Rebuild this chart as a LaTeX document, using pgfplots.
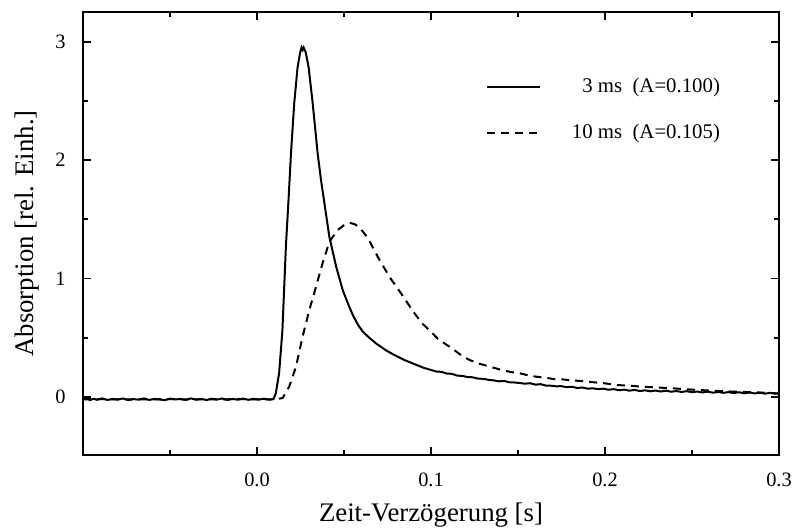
\documentclass[border=0pt]{standalone}
\usepackage{pgfplots}
\pgfplotsset{compat=1.18}
\usepackage{fontspec}
\setmainfont{Liberation Serif}
\begin{document}
\begin{tikzpicture}
\begin{axis}[
  scale only axis,
  width=348pt, height=221.5pt,
  xmin=-0.1, xmax=0.3, ymin=-0.49, ymax=3.25,
  axis line style={line width=1pt},
  xtick={0,0.1,0.2,0.3},
  xticklabels={0.0,0.1,0.2,0.3},
  minor xtick={-0.05,0.05,0.15,0.25},
  ytick={0,1,2,3},
  yticklabels={0,1,2,3},
  minor ytick={0.5,1.5,2.5},
  tick align=inside,
  major tick length=4pt, minor tick length=2.5pt,
  tick style={line width=0.9pt, black},
  x tick label style={anchor=north, inner sep=0pt, yshift=-9pt, font=\fontsize{10.2}{12}\selectfont},
  y tick label style={anchor=east, inner sep=0pt, xshift=-8.5pt, font=\fontsize{10.2}{12}\selectfont},
  xlabel={Zeit-Verzögerung [s]},
  ylabel={Absorption [rel. Einh.]},
  every axis x label/.style={at={(axis description cs:0.5,-0.1512)}, anchor=base, inner sep=0pt, font=\fontsize{13.4}{16}\selectfont},
  every axis y label/.style={at={(axis description cs:-0.0718,0.5)}, rotate=90, anchor=base, inner sep=0pt, font=\fontsize{13.4}{16}\selectfont},
  legend style={draw=none, fill=none, at={(axis description cs:0.9152,0.851)}, anchor=north east,
    inner sep=0pt, outer sep=0pt, nodes={inner sep=0pt}, column sep=15.5pt, row sep=14.3pt,
    font=\fontsize{10.4}{12.5}\selectfont},
  legend cell align=right,
  legend image code/.code={\draw[#1] (0pt,0pt) -- (26.5pt,0pt);},
]
\addplot[black, line width=1pt] coordinates {
(-0.100,-0.020) (-0.098,-0.008) (-0.096,-0.027) (-0.094,-0.015) (-0.092,-0.024)
(-0.089,-0.012) (-0.086,-0.025) (-0.083,-0.017) (-0.080,-0.022) (-0.077,-0.013)
(-0.074,-0.026) (-0.071,-0.018) (-0.068,-0.023) (-0.065,-0.012) (-0.062,-0.025)
(-0.059,-0.016) (-0.056,-0.021) (-0.053,-0.027) (-0.050,-0.014) (-0.047,-0.021)
(-0.044,-0.017) (-0.041,-0.025) (-0.038,-0.012) (-0.035,-0.023) (-0.032,-0.016)
(-0.029,-0.026) (-0.026,-0.015) (-0.023,-0.022) (-0.020,-0.013) (-0.017,-0.025)
(-0.014,-0.017) (-0.011,-0.023) (-0.008,-0.014) (-0.005,-0.024) (-0.002,-0.016)
(0.001,-0.022) (0.004,-0.015) (0.007,-0.023) (0.0095,-0.018)
(0.0108,0.03) (0.0127,0.20) (0.0146,0.56) (0.0166,1.27) (0.0181,1.66)
(0.0195,2.05) (0.0214,2.48) (0.0233,2.78) (0.0248,2.91) (0.0256,2.95) (0.0262,2.93) (0.0268,2.95)
(0.0280,2.91) (0.0297,2.78) (0.0320,2.48) (0.0349,2.05) (0.0368,1.83)
(0.0387,1.64) (0.0416,1.35) (0.0455,1.10) (0.0493,0.90) (0.0525,0.78) (0.0551,0.69)
(0.0580,0.61) (0.0609,0.55) (0.0645,0.50) (0.0686,0.45) (0.0740,0.395) (0.0782,0.36) (0.0850,0.31) (0.0917,0.27)
(0.0960,0.245) (0.100,0.228) (0.103,0.215) (0.106,0.212) (0.109,0.198) (0.112,0.195)
(0.115,0.180) (0.118,0.178) (0.121,0.168) (0.124,0.166) (0.127,0.155) (0.130,0.153)
(0.133,0.145) (0.136,0.140) (0.139,0.132) (0.142,0.135) (0.145,0.124) (0.148,0.122)
(0.151,0.118) (0.154,0.112) (0.157,0.116) (0.160,0.104) (0.163,0.108) (0.166,0.096)
(0.169,0.095) (0.172,0.090) (0.175,0.091) (0.178,0.083) (0.181,0.086) (0.184,0.076)
(0.187,0.080) (0.190,0.070) (0.193,0.073) (0.196,0.066) (0.199,0.070) (0.202,0.061)
(0.205,0.066) (0.208,0.057) (0.211,0.062) (0.214,0.053) (0.217,0.060) (0.220,0.050)
(0.223,0.056) (0.226,0.048) (0.229,0.054) (0.232,0.046) (0.235,0.053) (0.238,0.044)
(0.241,0.050) (0.244,0.042) (0.247,0.049) (0.250,0.040) (0.253,0.046) (0.256,0.038)
(0.259,0.045) (0.262,0.036) (0.265,0.043) (0.268,0.035) (0.271,0.041) (0.274,0.033)
(0.277,0.040) (0.280,0.031) (0.283,0.038) (0.286,0.030) (0.289,0.036) (0.292,0.028)
(0.295,0.035) (0.298,0.027) (0.300,0.031)
};
\addlegendentry{3 ms\ \ (A=0.100)}
\addplot[black, line width=1pt, dash pattern=on 4pt off 3pt] coordinates {
(-0.100,-0.020) (-0.090,-0.018) (-0.080,-0.021) (-0.070,-0.019) (-0.060,-0.020)
(-0.050,-0.018) (-0.040,-0.021) (-0.030,-0.019) (-0.020,-0.020) (-0.010,-0.018)
(0.000,-0.021) (0.010,-0.019) (0.0147,-0.010) (0.0185,0.087) (0.0224,0.255)
(0.0262,0.51) (0.0300,0.73) (0.0339,0.93) (0.0377,1.13) (0.0416,1.31)
(0.0464,1.41) (0.0500,1.45) (0.0532,1.47) (0.0560,1.46) (0.0590,1.43) (0.0638,1.34)
(0.0695,1.18) (0.0763,1.01) (0.0830,0.87) (0.0898,0.72) (0.0950,0.62)
(0.0994,0.56) (0.1040,0.49) (0.1090,0.44) (0.1130,0.40) (0.1180,0.345)
(0.1225,0.31) (0.1280,0.28) (0.1340,0.255) (0.1400,0.23) (0.1460,0.21)
(0.1510,0.20) (0.1560,0.182) (0.1610,0.17) (0.1660,0.162) (0.1710,0.15) (0.1760,0.148)
(0.1800,0.140) (0.1850,0.136) (0.1900,0.128) (0.1950,0.122) (0.2000,0.115)
(0.2050,0.104) (0.2100,0.098) (0.2150,0.094) (0.2200,0.088) (0.2250,0.084)
(0.2300,0.080) (0.2350,0.076) (0.2400,0.072) (0.2475,0.064) (0.2550,0.058)
(0.2625,0.052) (0.2700,0.047) (0.2775,0.044) (0.2850,0.040) (0.2925,0.035) (0.3000,0.030)
};
\addlegendentry{10 ms\ \ (A=0.105)}
\end{axis}
\pgfresetboundingbox
\path (current axis.south west) ++(-41.5pt,-37pt) coordinate (bbA);
\path (current axis.north east) ++(7.5pt,6pt) coordinate (bbB);
\useasboundingbox (bbA) rectangle (bbB);
\end{tikzpicture}
\end{document}
